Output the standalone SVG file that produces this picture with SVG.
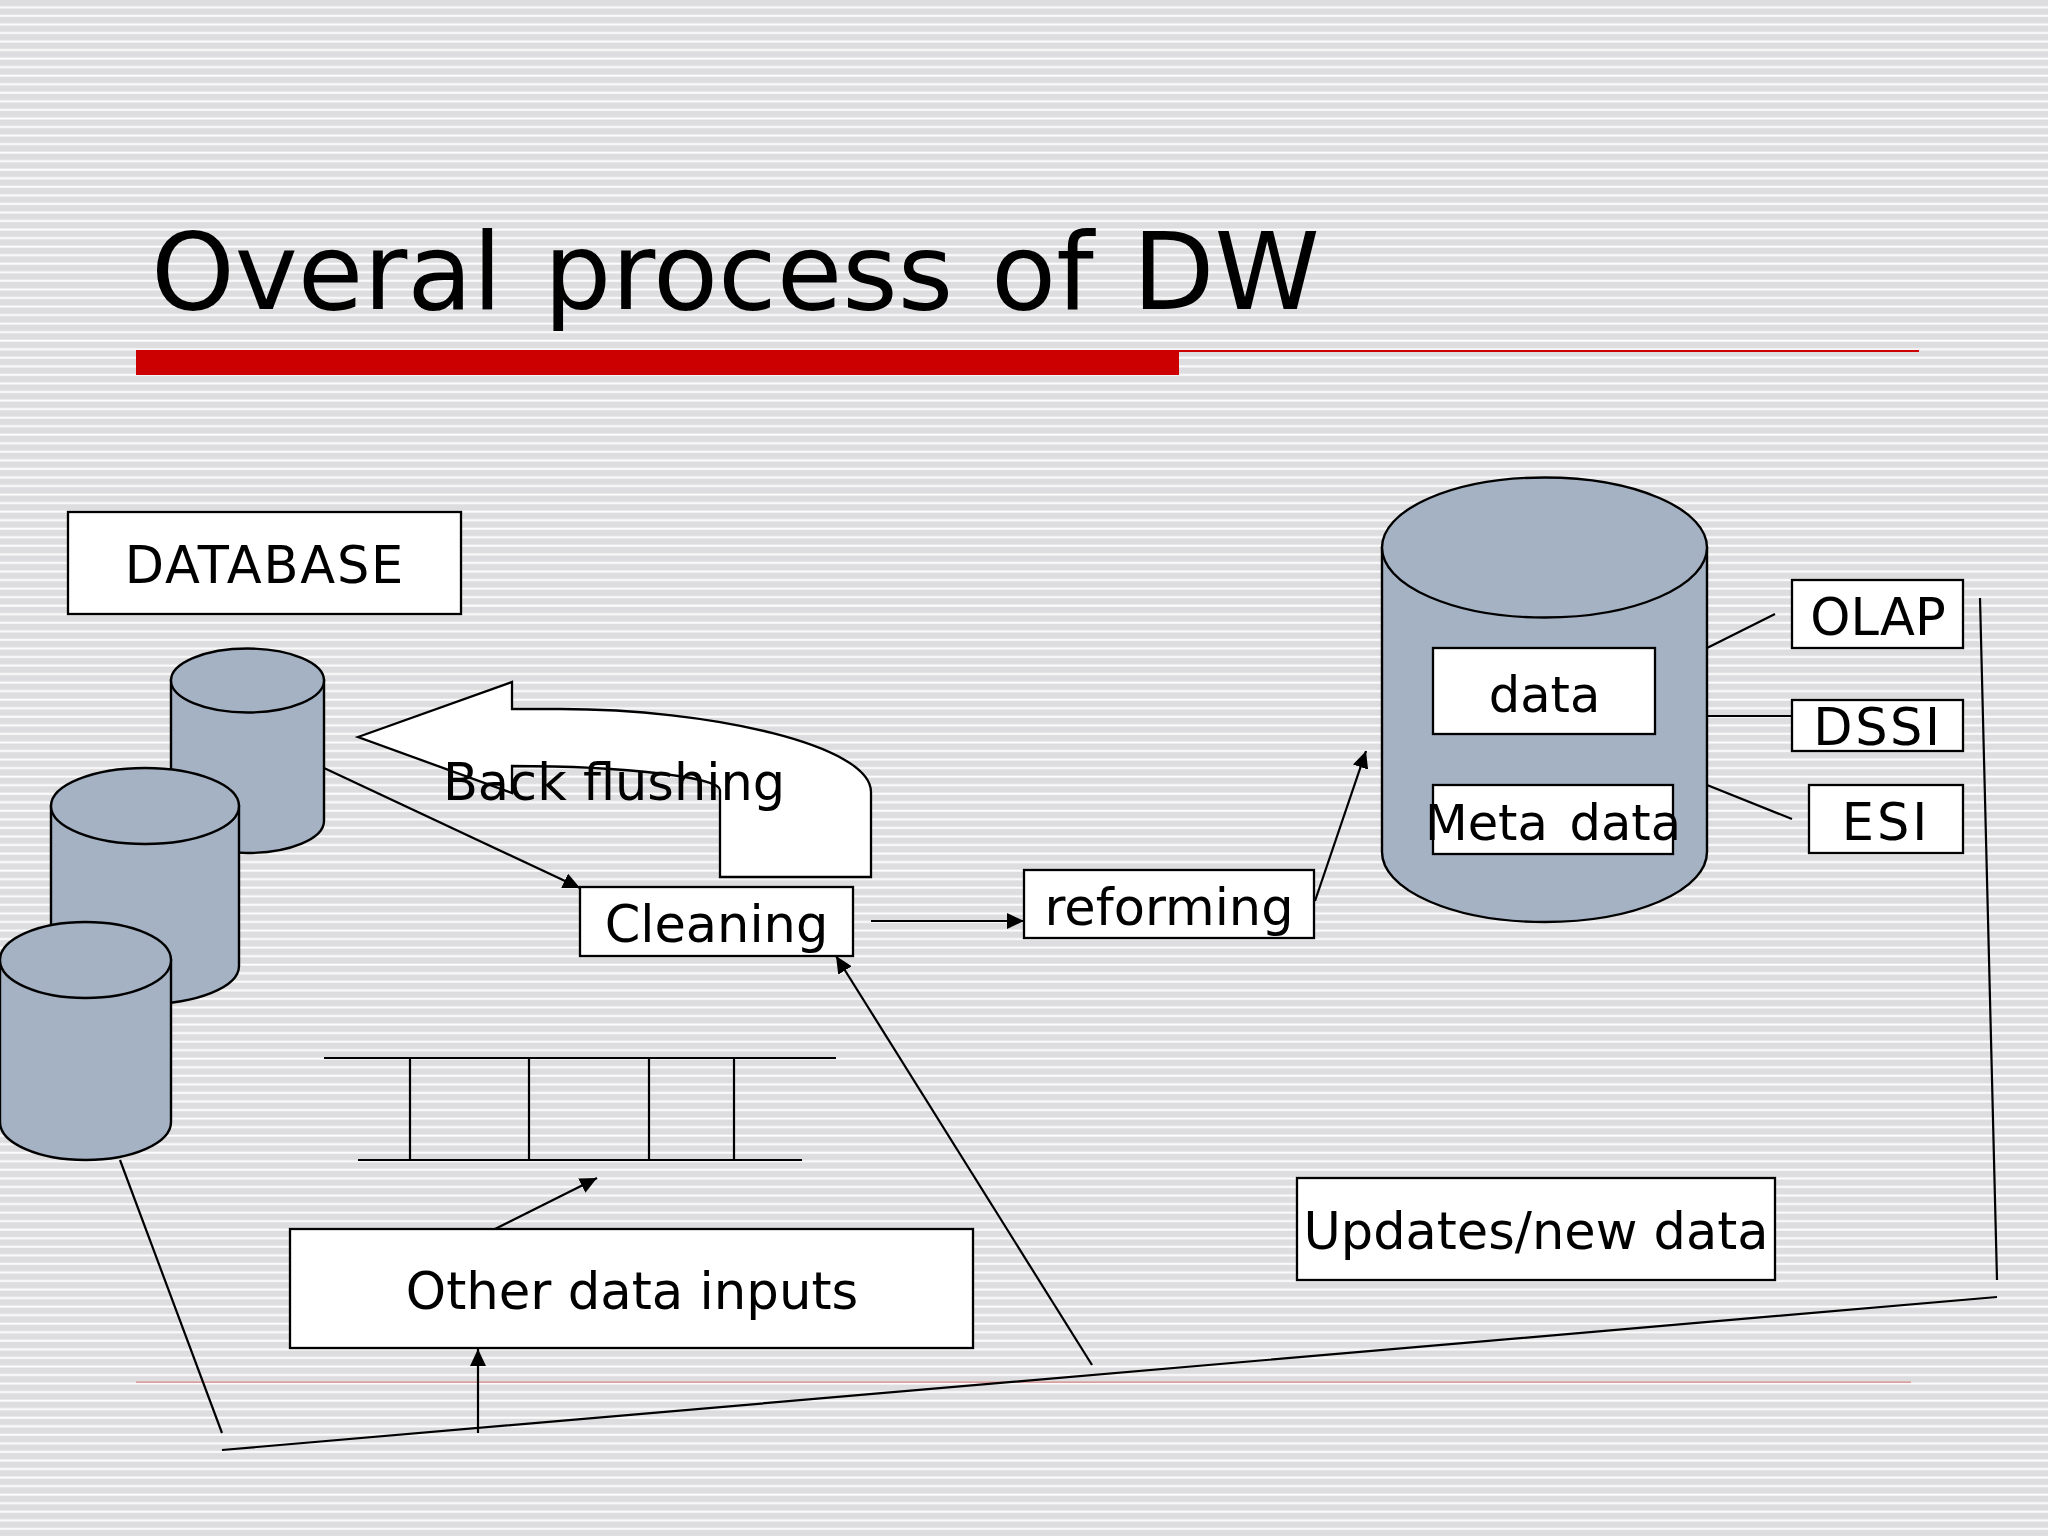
<svg xmlns="http://www.w3.org/2000/svg" width="2048" height="1536" viewBox="0 0 2048 1536">
<defs>
<pattern id="stripes" patternUnits="userSpaceOnUse" width="64" height="8.548"><rect width="64" height="8.548" fill="#dddcde"/><rect y="6.3" width="64" height="2" fill="#fdfdfd"/></pattern>
<marker id="ah" markerUnits="userSpaceOnUse" markerWidth="18" markerHeight="16" refX="17" refY="8" orient="auto"><path d="M0 0L17 8L0 16Z" fill="#000"/></marker>
</defs>
<style>
.box{fill:#fff;stroke:#000;stroke-width:2.3}
.cyl{fill:#a4b2c3;stroke:#000;stroke-width:2.4}
.t{font-family:"DejaVu Sans",Verdana,sans-serif;font-size:51px;fill:#000;text-anchor:middle}
.c{stroke:#000;stroke-width:2.2;fill:none}
.a{marker-end:url(#ah)}
</style>
<rect width="2048" height="1536" fill="url(#stripes)"/>
<g id="title-rule"><rect x="136" y="350" width="1043" height="25" fill="#cc0000"/><rect x="1179" y="350" width="740" height="2" fill="#cc0000"/><rect x="136" y="1381.500" width="1775" height="1.300" fill="#d98a8a"/></g>
<text id="title" x="151" y="308.500" font-family="DejaVu Sans, Verdana, sans-serif" font-size="106.500" word-spacing="8" fill="#000">Overal process <tspan dx="-4">of</tspan> <tspan dx="-3">DW</tspan></text>
<g id="node-database"><rect class="box" x="68" y="512" width="393" height="102"/><text class="t" x="265" y="583" letter-spacing="1.800">DATABASE</text></g>
<g id="cylinder-a"><path class="cyl" d="M171 680V821A76.500 32 0 0 0 324 821V680Z"/><ellipse class="cyl" cx="247.500" cy="680.500" rx="76.500" ry="32"/></g>
<g id="cylinder-b"><path class="cyl" d="M51 806V966A94 38 0 0 0 239 966V806Z"/><ellipse class="cyl" cx="145" cy="806" rx="94" ry="38"/></g>
<g id="cylinder-c"><path class="cyl" d="M0 960V1122A85.500 38 0 0 0 171 1122V960Z"/><ellipse class="cyl" cx="85.500" cy="960" rx="85.500" ry="38"/></g>
<g id="node-backflush"><path class="box" d="M358 737L512 682V709H560C710 709 871 745 871 792V877H720V790C720 778 630 766 512 766V793Z"/><text class="t" x="614" y="800">Back flushing</text></g>
<g id="node-cleaning"><rect class="box" x="580" y="887" width="273" height="69"/><text class="t" x="716.500" y="942">Cleaning</text></g>
<g id="node-reforming"><rect class="box" x="1024" y="870" width="290" height="68"/><text class="t" x="1169" y="925">reforming</text></g>
<g id="node-warehouse"><path class="cyl" d="M1382 547.500V852A162.500 70 0 0 0 1707 852V547.500Z"/><ellipse class="cyl" cx="1544.500" cy="547.500" rx="162.500" ry="70"/></g>
<g id="node-data"><rect class="box" x="1433" y="648" width="222" height="86"/><text class="t" x="1544.500" y="712" style="font-size:49.500px">data</text></g>
<g id="node-metadata"><rect class="box" x="1433" y="785" width="240" height="69"/><text class="t" x="1553" y="840" style="font-size:49.500px" word-spacing="6">Meta data</text></g>
<g id="node-olap"><rect class="box" x="1792" y="580" width="171" height="68"/><text class="t" x="1878" y="635">OLAP</text></g>
<g id="node-dssi"><rect class="box" x="1792" y="700" width="171" height="51"/><text class="t" x="1878" y="745" letter-spacing="2.600">DSSI</text></g>
<g id="node-esi"><rect class="box" x="1809" y="785" width="154" height="68"/><text class="t" x="1886" y="840" letter-spacing="3">ESI</text></g>
<g id="node-other"><rect class="box" x="290" y="1229" width="683" height="119"/><text class="t" x="632" y="1309" style="font-size:51.300px">Other data inputs</text></g>
<g id="node-updates"><rect class="box" x="1297" y="1178" width="478" height="102"/><text class="t" x="1536" y="1249">Updates/new data</text></g>
<g id="connectors">
<path class="c a" d="M324 768L580 888"/>
<path class="c a" d="M871 921H1024"/>
<path class="c a" d="M1315 901L1366 751"/>
<path class="c" d="M1707 648L1775 614M1707 716H1792M1707 785L1792 819"/>
<path class="c" d="M324 1058H836M358 1160H802M410 1058V1160M529 1058V1160M649 1058V1160M734 1058V1160"/>
<path class="c a" d="M495 1229L597 1178"/>
<path class="c a" d="M478 1433V1349"/>
<path class="c a" d="M1092 1365L836 956"/>
<path class="c" d="M222 1450L1997 1297M120 1160L222 1433M1980 598L1997 1280"/>
</g>
</svg>
